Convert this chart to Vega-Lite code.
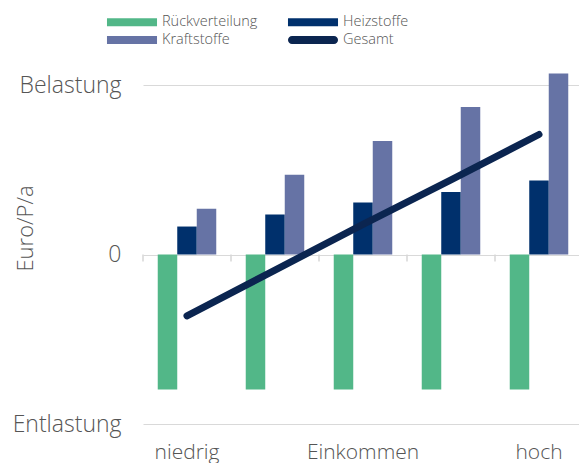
{
  "$schema": "https://vega.github.io/schema/vega-lite/v6.json",
  "autosize": {"type": "none"},
  "width": 436,
  "height": 339,
  "padding": {"left": 143, "top": 85, "right": 0, "bottom": 39},
  "datasets": {
    "bars": [
      {"gruppe": "1", "serie": "Rückverteilung", "wert": -0.796},
      {"gruppe": "1", "serie": "Heizstoffe", "wert": 0.165},
      {"gruppe": "1", "serie": "Kraftstoffe", "wert": 0.27},
      {"gruppe": "2", "serie": "Rückverteilung", "wert": -0.796},
      {"gruppe": "2", "serie": "Heizstoffe", "wert": 0.236},
      {"gruppe": "2", "serie": "Kraftstoffe", "wert": 0.47},
      {"gruppe": "3", "serie": "Rückverteilung", "wert": -0.796},
      {"gruppe": "3", "serie": "Heizstoffe", "wert": 0.307},
      {"gruppe": "3", "serie": "Kraftstoffe", "wert": 0.67},
      {"gruppe": "4", "serie": "Rückverteilung", "wert": -0.796},
      {"gruppe": "4", "serie": "Heizstoffe", "wert": 0.368},
      {"gruppe": "4", "serie": "Kraftstoffe", "wert": 0.87},
      {"gruppe": "5", "serie": "Rückverteilung", "wert": -0.796},
      {"gruppe": "5", "serie": "Heizstoffe", "wert": 0.437},
      {"gruppe": "5", "serie": "Kraftstoffe", "wert": 1.068}
    ],
    "gesamt": [
      {"gruppe": "1", "serie": "Gesamt", "wert": -0.362},
      {"gruppe": "2", "serie": "Gesamt", "wert": -0.092},
      {"gruppe": "3", "serie": "Gesamt", "wert": 0.178},
      {"gruppe": "4", "serie": "Gesamt", "wert": 0.44},
      {"gruppe": "5", "serie": "Gesamt", "wert": 0.708}
    ]
  },
  "encoding": {
    "x": {
      "field": "gruppe",
      "type": "nominal",
      "sort": ["1", "2", "3", "4", "5"],
      "scale": {"domain": ["1", "2", "3", "4", "5"], "range": [0, 440], "paddingInner": 0, "paddingOuter": 0},
      "axis": {
        "title": null,
        "domain": false,
        "ticks": false,
        "grid": false,
        "labelAngle": 0,
        "labelFontSize": 21,
        "labelFontWeight": 300,
        "labelColor": "#555555",
        "labelPadding": 17,
        "labelExpr": "datum.value == '1' ? 'niedrig' : datum.value == '3' ? 'Einkommen' : datum.value == '5' ? 'hoch' : ''"
      }
    }
  },
  "layer": [
    {
      "data": {"name": "gesamt"},
      "mark": {"type": "rule", "color": "#d6d6d6", "strokeWidth": 1.5},
      "encoding": {
        "x": {"field": "gruppe", "type": "nominal", "bandPosition": 0},
        "y": {"datum": 0, "type": "quantitative"},
        "y2": {"datum": -0.042}
      }
    },
    {
      "data": {"name": "bars"},
      "mark": {"type": "bar"},
      "encoding": {
        "xOffset": {
          "field": "serie",
          "type": "nominal",
          "sort": ["Rückverteilung", "Heizstoffe", "Kraftstoffe"],
          "scale": {"domain": ["Rückverteilung", "Heizstoffe", "Kraftstoffe"], "paddingInner": 0, "paddingOuter": 0.756}
        },
        "y": {
          "field": "wert",
          "type": "quantitative",
          "scale": {"domain": [-1, 1], "nice": false, "zero": false},
          "axis": {
            "title": "Euro/P/a",
            "values": [-1, 0, 1],
            "labelExpr": "datum.value == 1 ? 'Belastung' : datum.value == 0 ? '0' : 'Entlastung'",
            "domain": false,
            "ticks": false,
            "grid": true,
            "gridColor": "#d9d9d9",
            "gridWidth": 1.2,
            "labelFontSize": 23,
            "labelFontWeight": 300,
            "labelColor": "#555555",
            "labelPadding": 22,
            "titleFontSize": 22,
            "titleFontWeight": 300,
            "titleColor": "#555555",
            "titleX": -111,
            "titleY": 143,
            "titleAngle": -90,
            "titleAlign": "center",
            "titleBaseline": "alphabetic"
          }
        },
        "color": {
          "field": "serie",
          "type": "nominal",
          "scale": {
            "domain": ["Rückverteilung", "Heizstoffe", "Kraftstoffe", "Gesamt"],
            "range": ["#52b788", "#00306c", "#6673a5", "#0b2550"]
          },
          "legend": {
            "title": null,
            "orient": "none",
            "direction": "horizontal",
            "legendX": -20,
            "legendY": -72,
            "columns": 2,
            "columnPadding": 29,
            "rowPadding": 2,
            "symbolType": "M-2.78,-0.444H2.78V0.444H-2.78Z",
            "symbolSize": 324,
            "symbolStrokeWidth": 0,
            "labelOffset": 21,
            "labelFontSize": 14.5,
            "labelFontWeight": 300,
            "labelColor": "#555555",
            "encode": {
              "symbols": {
                "update": {
                  "fill": {"scale": "color", "field": "value"},
                  "shape": {"signal": "datum.value == 'Gesamt' ? 'M-2.336,-0.444H2.336A0.444,0.444 0 0 1 2.336,0.444H-2.336A0.444,0.444 0 0 1 -2.336,-0.444Z' : 'M-2.78,-0.444H2.78V0.444H-2.78Z'"},
                  "stroke": {"value": "transparent"},
                  "strokeWidth": {"value": 0},
                  "opacity": {"value": 1}
                }
              }
            }
          }
        }
      }
    },
    {
      "data": {"name": "gesamt"},
      "mark": {"type": "line", "strokeWidth": 7, "strokeCap": "round"},
      "encoding": {
        "y": {"field": "wert", "type": "quantitative"},
        "color": {"field": "serie", "type": "nominal"}
      }
    }
  ],
  "config": {
    "view": {"stroke": null},
    "font": "Open Sans"
  }
}
